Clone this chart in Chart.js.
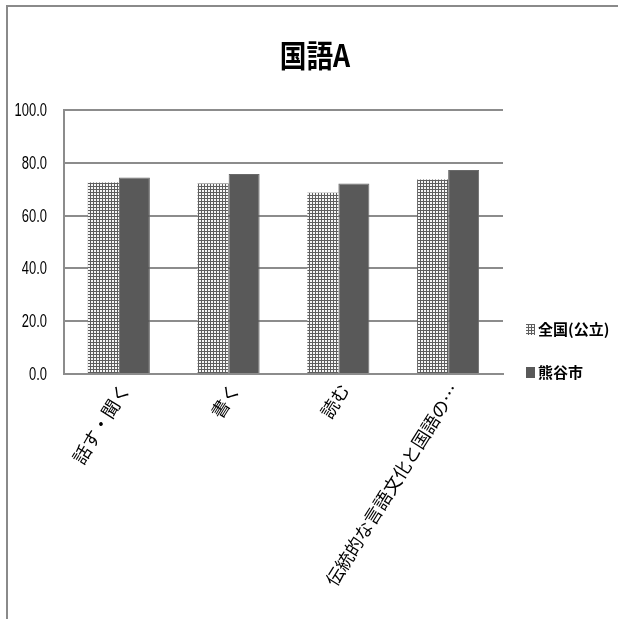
<!DOCTYPE html>
<html>
<head>
<meta charset="utf-8">
<script src="https://cdn.jsdelivr.net/npm/chart.js@4"></script>
<style>
  html, body { margin: 0; padding: 0; background: #fff; }
  #wrap { position: relative; width: 618px; height: 619px; }
  #frame { position: absolute; left: 6px; top: 5px; right: 0; bottom: 0;
           border-top: 2px solid #8a8a8a; border-left: 2px solid #8a8a8a; pointer-events: none; }
  canvas { position: absolute; left: 0; top: 0; }
</style>
</head>
<body>
<div id="wrap">
  <canvas id="c" width="618" height="619"></canvas>
  <div id="frame"></div>
</div>
<script>
// 領域別の平均正答率（%）
const categories = ['話す・聞く', '書く', '読む', '伝統的な言語文化と国語の…'];
const zenkoku = [72.5, 72.2, 68.7, 73.7];   // 全国(公立)
const kumagaya = [74.4, 75.8, 72.2, 77.3];  // 熊谷市
const yTicks = [0, 20, 40, 60, 80, 100];
const chartTitle = '国語A';

// 全国(公立) 用の細かい格子模様
function gridPattern() {
  const t = document.createElement('canvas');
  t.width = 3; t.height = 3;
  const g = t.getContext('2d');
  g.fillStyle = '#f6f6f6';
  g.fillRect(0, 0, 3, 3);
  g.fillStyle = '#5e5e5e';
  g.fillRect(0, 0, 3, 1);
  g.fillRect(0, 0, 1, 3);
  return g.createPattern(t, 'repeat');
}

// 縦軸の目盛り文字を縦長（横方向に圧縮）の書体で描く
const narrowYLabels = {
  id: 'narrowYLabels',
  afterDraw(chart) {
    const s = chart.scales.y;
    const c = chart.ctx;
    c.save();
    c.fillStyle = '#000';
    c.font = '18px "Liberation Sans", sans-serif';
    c.textAlign = 'right';
    c.textBaseline = 'middle';
    s.ticks.forEach(t => {
      const y = s.getPixelForValue(t.value);
      c.save();
      c.translate(s.right - 17, y + 1);
      c.scale(0.72, 1);
      c.fillText(Number(t.value).toFixed(1), 0, 0);
      c.restore();
    });
    c.restore();
  }
};

// 見出し（キャンバス全体の中央に配置）
const canvasTitle = {
  id: 'canvasTitle',
  afterDraw(chart) {
    const c = chart.ctx;
    c.save();
    c.fillStyle = '#000';
    c.font = 'bold 31px "Noto Sans CJK JP", sans-serif';
    c.textAlign = 'center';
    c.textBaseline = 'middle';
    c.translate(315, 55);
    c.scale(0.86, 1);
    c.fillText(chartTitle, 0, 0);
    c.restore();
  }
};

// 凡例（プロット領域の右下寄りに縦並び）
const sideLegend = {
  id: 'sideLegend',
  afterDraw(chart) {
    const a = chart.chartArea;
    const c = chart.ctx;
    const x = a.right + 23;
    const rows = [a.bottom - 45, a.bottom - 2];
    c.save();
    c.font = 'bold 15px "Noto Sans CJK JP", sans-serif';
    c.textBaseline = 'middle';
    c.textAlign = 'left';
    chart.data.datasets.forEach((ds, i) => {
      const y = rows[i];
      c.fillStyle = ds.backgroundColor;
      c.fillRect(x, y - 5, 9, 11);
      c.fillStyle = '#000';
      c.fillText(ds.label, x + 12, y);
    });
    c.restore();
  }
};

const ctx = document.getElementById('c').getContext('2d');
const pat = gridPattern();
const jp = '"Noto Sans CJK JP", sans-serif';

new Chart(ctx, {
  type: 'bar',
  data: {
    labels: categories,
    datasets: [
      { label: '全国(公立)', data: zenkoku, backgroundColor: pat, borderWidth: 0 },
      { label: '熊谷市', data: kumagaya, backgroundColor: '#595959', borderColor: '#6a6a6a', borderWidth: 1 }
    ]
  },
  plugins: [narrowYLabels, canvasTitle, sideLegend],
  options: {
    responsive: false,
    animation: false,
    devicePixelRatio: 1,
    layout: { padding: { left: 0, right: 115, top: 110, bottom: 0 } },
    datasets: { bar: { barPercentage: 1.0, categoryPercentage: 0.565 } },
    plugins: {
      title: { display: false },
      legend: { display: false },
      tooltip: { enabled: false }
    },
    scales: {
      x: {
        grid: { display: false, drawTicks: false },
        border: { display: true, color: '#8c8c8c', width: 2 },
        ticks: {
          color: '#000',
          font: { family: jp, size: 18 },
          minRotation: 58,
          maxRotation: 58,
          autoSkip: false,
          padding: 6,
          labelOffset: 6
        },
        afterFit: s => { s.height = 245; }
      },
      y: {
        min: 0,
        max: 100,
        afterBuildTicks: s => { s.ticks = yTicks.map(v => ({ value: v })); },
        grid: { color: '#8c8c8c', lineWidth: 2, drawTicks: false },
        border: { display: true, color: '#8c8c8c', width: 2 },
        ticks: { display: false },
        afterFit: s => { s.width = 64; }
      }
    }
  }
});
</script>
</body>
</html>
